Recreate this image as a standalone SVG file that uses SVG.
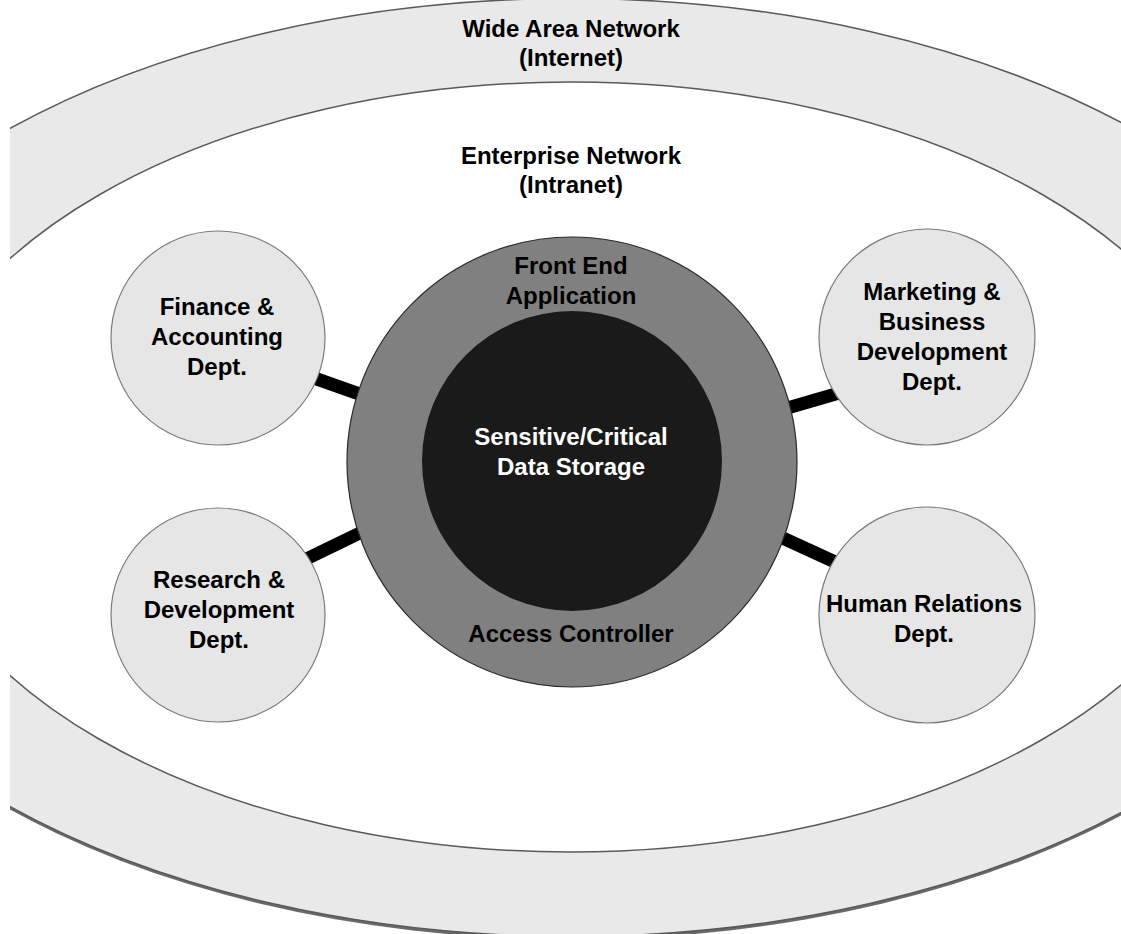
<svg xmlns="http://www.w3.org/2000/svg" width="1121" height="934" viewBox="0 0 1121 934">
<defs>
<clipPath id="clip"><rect x="10" y="-10" width="1120" height="960"/></clipPath>
</defs>
<style>
text{font-family:"Liberation Sans",Arial,sans-serif;font-weight:bold;font-size:24px;text-anchor:middle;fill:#000}
.w{fill:#fff}
.dept{fill:#e6e6e6;stroke:#7a7a7a;stroke-width:1.2}
.conn{stroke:#000;stroke-width:13;stroke-linecap:butt}
</style>
<rect width="1121" height="934" fill="#fff"/>
<g id="wan" clip-path="url(#clip)">
<ellipse cx="571" cy="470.5" rx="812" ry="469" fill="#6a6a6a"/>
<ellipse cx="571" cy="467.5" rx="812" ry="469" fill="#e9e9e9" stroke="#5a5a5a" stroke-width="1.5"/>
</g>
<g id="enterprise" clip-path="url(#clip)">
<ellipse cx="571" cy="467" rx="667" ry="385" fill="#fff" stroke="#5a5a5a" stroke-width="1.5"/>
</g>
<g id="labels">
<text x="571" y="37">Wide Area Network</text>
<text x="571" y="66">(Internet)</text>
<text x="571" y="164">Enterprise Network</text>
<text x="571" y="193">(Intranet)</text>
</g>
<g id="connectors">
<line class="conn" x1="300" y1="373" x2="365" y2="396"/>
<line class="conn" x1="298" y1="563" x2="366" y2="530"/>
<line class="conn" x1="784" y1="409" x2="846" y2="391"/>
<line class="conn" x1="774" y1="534" x2="846" y2="567"/>
</g>
<g id="front-end">
<circle cx="572" cy="462" r="225" fill="#808080" stroke="#2a2a2a" stroke-width="1.2"/>
<text x="571" y="274">Front End</text>
<text x="571" y="304">Application</text>
<text x="571" y="642">Access Controller</text>
</g>
<g id="storage">
<circle cx="572" cy="461" r="150" fill="#1a1a1a"/>
<text class="w" x="571" y="445">Sensitive/Critical</text>
<text class="w" x="571" y="475">Data Storage</text>
</g>
<g id="finance">
<circle class="dept" cx="218" cy="338" r="107"/>
<text x="217" y="315">Finance &amp;</text>
<text x="217" y="345">Accounting</text>
<text x="217" y="375">Dept.</text>
</g>
<g id="research">
<circle class="dept" cx="218" cy="615" r="107"/>
<text x="219" y="588">Research &amp;</text>
<text x="219" y="618">Development</text>
<text x="219" y="648">Dept.</text>
</g>
<g id="marketing">
<circle class="dept" cx="927" cy="337" r="108"/>
<text x="932" y="300">Marketing &amp;</text>
<text x="932" y="330">Business</text>
<text x="932" y="360">Development</text>
<text x="932" y="390">Dept.</text>
</g>
<g id="hr">
<circle class="dept" cx="927" cy="615" r="108"/>
<text x="924" y="612">Human Relations</text>
<text x="924" y="642">Dept.</text>
</g>
</svg>
